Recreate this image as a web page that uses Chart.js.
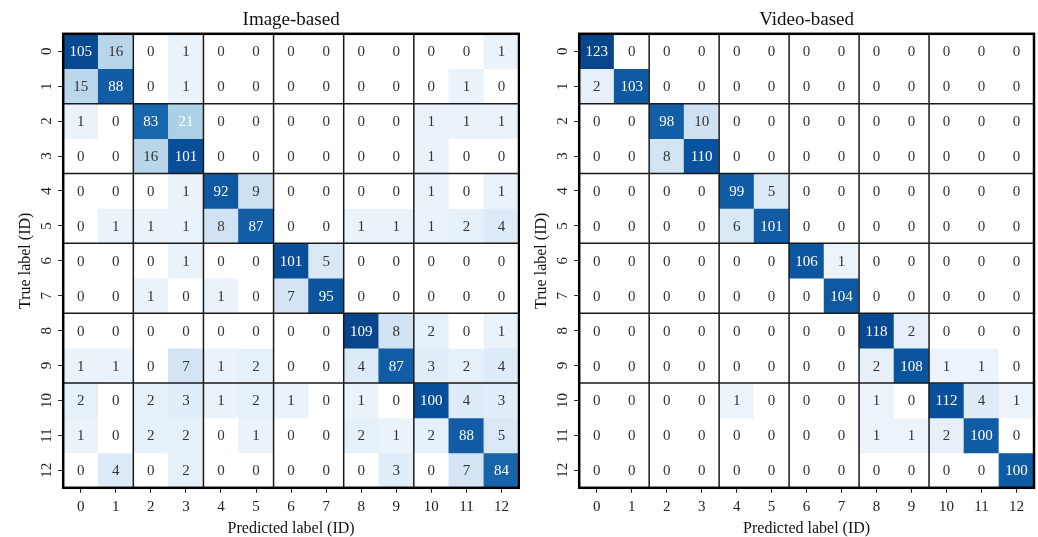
<!DOCTYPE html>
<html>
<head>
<meta charset="utf-8">
<script src="https://cdn.jsdelivr.net/npm/chart.js@4.4.1/dist/chart.umd.min.js"></script>
<style>
  html, body { margin: 0; padding: 0; background: #fff; }
  #wrap { display: flex; width: 1038px; height: 537px; }
</style>
</head>
<body>
<div id="wrap">
  <canvas id="imageChart" width="520" height="537"></canvas>
  <canvas id="videoChart" width="518" height="537"></canvas>
</div>
<script>
// class ids used on both axes
const classLabels = ['0', '1', '2', '3', '4', '5', '6', '7', '8', '9', '10', '11', '12'];

// rows = true label, columns = predicted label
const imageMatrix = [
    [105, 16, 0, 1, 0, 0, 0, 0, 0, 0, 0, 0, 1],
    [15, 88, 0, 1, 0, 0, 0, 0, 0, 0, 0, 1, 0],
    [1, 0, 83, 21, 0, 0, 0, 0, 0, 0, 1, 1, 1],
    [0, 0, 16, 101, 0, 0, 0, 0, 0, 0, 1, 0, 0],
    [0, 0, 0, 1, 92, 9, 0, 0, 0, 0, 1, 0, 1],
    [0, 1, 1, 1, 8, 87, 0, 0, 1, 1, 1, 2, 4],
    [0, 0, 0, 1, 0, 0, 101, 5, 0, 0, 0, 0, 0],
    [0, 0, 1, 0, 1, 0, 7, 95, 0, 0, 0, 0, 0],
    [0, 0, 0, 0, 0, 0, 0, 0, 109, 8, 2, 0, 1],
    [1, 1, 0, 7, 1, 2, 0, 0, 4, 87, 3, 2, 4],
    [2, 0, 2, 3, 1, 2, 1, 0, 1, 0, 100, 4, 3],
    [1, 0, 2, 2, 0, 1, 0, 0, 2, 1, 2, 88, 5],
    [0, 4, 0, 2, 0, 0, 0, 0, 0, 3, 0, 7, 84]
];

const videoMatrix = [
    [123, 0, 0, 0, 0, 0, 0, 0, 0, 0, 0, 0, 0],
    [2, 103, 0, 0, 0, 0, 0, 0, 0, 0, 0, 0, 0],
    [0, 0, 98, 10, 0, 0, 0, 0, 0, 0, 0, 0, 0],
    [0, 0, 8, 110, 0, 0, 0, 0, 0, 0, 0, 0, 0],
    [0, 0, 0, 0, 99, 5, 0, 0, 0, 0, 0, 0, 0],
    [0, 0, 0, 0, 6, 101, 0, 0, 0, 0, 0, 0, 0],
    [0, 0, 0, 0, 0, 0, 106, 1, 0, 0, 0, 0, 0],
    [0, 0, 0, 0, 0, 0, 0, 104, 0, 0, 0, 0, 0],
    [0, 0, 0, 0, 0, 0, 0, 0, 118, 2, 0, 0, 0],
    [0, 0, 0, 0, 0, 0, 0, 0, 2, 108, 1, 1, 0],
    [0, 0, 0, 0, 1, 0, 0, 0, 1, 0, 112, 4, 1],
    [0, 0, 0, 0, 0, 0, 0, 0, 1, 1, 2, 100, 0],
    [0, 0, 0, 0, 0, 0, 0, 0, 0, 0, 0, 0, 100]
];

// separators between the pairs of classes
const groupEdges = [1.5, 3.5, 5.5, 7.5, 9.5];

// Blues ramp (starts from white)
const blues = [
    [255, 255, 255], [222, 235, 247], [198, 219, 239], [158, 202, 225], [107, 174, 214],
    [66, 146, 198], [33, 113, 181], [8, 81, 156], [8, 48, 107]
];
// share of the max -> position on the ramp
const normIn = [0, 0.0092, 0.07, 0.147, 0.193, 0.807, 1];
const normOut = [0, 0.08, 0.19, 0.294, 0.33, 0.83, 0.92];

function rampPos(p) {
    for (let i = 1; i < normIn.length; i++) {
        if (p <= normIn[i]) {
            const f = (p - normIn[i - 1]) / (normIn[i] - normIn[i - 1]);
            return normOut[i - 1] + f * (normOut[i] - normOut[i - 1]);
        }
    }
    return normOut[normOut.length - 1];
}

function bluesColor(v, vmax) {
    if (v <= 0) return '#ffffff';
    const t = rampPos(v / vmax) * (blues.length - 1);
    const i = Math.min(Math.floor(t), blues.length - 2);
    const f = t - i;
    const c = blues[i].map((a, k) => Math.round(a + (blues[i + 1][k] - a) * f));
    return `rgb(${c[0]}, ${c[1]}, ${c[2]})`;
}

// one floating-bar dataset per true label, one bar per predicted label
function buildDatasets(matrix, vmax) {
    return matrix.map((row, r) => ({
        label: 'True ' + r,
        data: row.map(() => [r - 0.5, r + 0.5]),
        backgroundColor: row.map(v => bluesColor(v, vmax)),
        borderWidth: 0,
        barPercentage: 1,
        categoryPercentage: 1
    }));
}

function cellPlugin(matrix, vmax) {
    return {
        id: 'cellText',
        afterDatasetsDraw(chart) {
            const { ctx, chartArea, scales: { x, y } } = chart;
            ctx.save();
            ctx.strokeStyle = '#1a1a1a';
            ctx.lineWidth = 1.5;
            groupEdges.forEach(b => {
                const px = x.getPixelForValue(b);
                const py = y.getPixelForValue(b);
                ctx.beginPath();
                ctx.moveTo(px, chartArea.top);
                ctx.lineTo(px, chartArea.bottom);
                ctx.stroke();
                ctx.beginPath();
                ctx.moveTo(chartArea.left, py);
                ctx.lineTo(chartArea.right, py);
                ctx.stroke();
            });
            ctx.strokeStyle = '#000';
            ctx.lineWidth = 2.5;
            ctx.strokeRect(chartArea.left, chartArea.top, chartArea.width, chartArea.height);

            ctx.font = '15px "Liberation Serif"';
            ctx.textAlign = 'center';
            ctx.textBaseline = 'middle';
            matrix.forEach((row, r) => row.forEach((v, c) => {
                ctx.fillStyle = v / vmax > 0.17 ? '#ffffff' : '#333333';
                ctx.fillText(String(v), x.getPixelForValue(c), y.getPixelForValue(r) + 1);
            }));
            ctx.restore();
        }
    };
}

Chart.defaults.font.family = '"Liberation Serif", serif';
Chart.defaults.color = '#222';

function drawMatrix(canvasId, title, matrix, pad) {
    const vmax = Math.max(...matrix.flat());
    return new Chart(document.getElementById(canvasId), {
        type: 'bar',
        data: {
            labels: classLabels,
            datasets: buildDatasets(matrix, vmax)
        },
        options: {
            responsive: false,
            animation: false,
            layout: { padding: pad },
            plugins: {
                legend: { display: false },
                tooltip: { enabled: false },
                title: {
                    display: true,
                    text: title,
                    fullSize: false,
                    color: '#111',
                    font: { size: 19, weight: 'normal' },
                    padding: { top: 9, bottom: 2 }
                }
            },
            scales: {
                x: {
                    stacked: true,
                    offset: true,
                    border: { display: false },
                    grid: {
                        offset: false,
                        drawOnChartArea: false,
                        drawTicks: true,
                        tickLength: 5,
                        tickColor: '#222',
                        tickWidth: 1
                    },
                    ticks: { color: '#222', font: { size: 15 }, padding: 5, maxRotation: 0, autoSkip: false },
                    title: {
                        display: true,
                        text: 'Predicted label (ID)',
                        color: '#111',
                        font: { size: 16 },
                        padding: { top: -2, bottom: -1 }
                    }
                },
                y: {
                    type: 'linear',
                    stacked: false,
                    reverse: true,
                    min: -0.5,
                    max: 12.5,
                    afterBuildTicks: axis => {
                        axis.ticks = classLabels.map((_, i) => ({ value: i }));
                    },
                    border: { display: false },
                    grid: {
                        drawOnChartArea: false,
                        drawTicks: true,
                        tickLength: 5,
                        tickColor: '#222',
                        tickWidth: 1
                    },
                    ticks: {
                        color: '#222',
                        font: { size: 15 },
                        padding: 4,
                        minRotation: 90,
                        maxRotation: 90,
                        crossAlign: 'center',
                        callback: v => classLabels[v]
                    },
                    title: {
                        display: true,
                        text: 'True label (ID)',
                        color: '#111',
                        font: { size: 16 },
                        padding: { top: 1, bottom: -3 }
                    }
                }
            }
        },
        plugins: [cellPlugin(matrix, vmax)]
    });
}

drawMatrix('imageChart', 'Image-based', imageMatrix, { left: 15, right: 1, top: 0, bottom: 0 });
drawMatrix('videoChart', 'Video-based', videoMatrix, { left: 11, right: 4, top: 0, bottom: 0 });
</script>
</body>
</html>
